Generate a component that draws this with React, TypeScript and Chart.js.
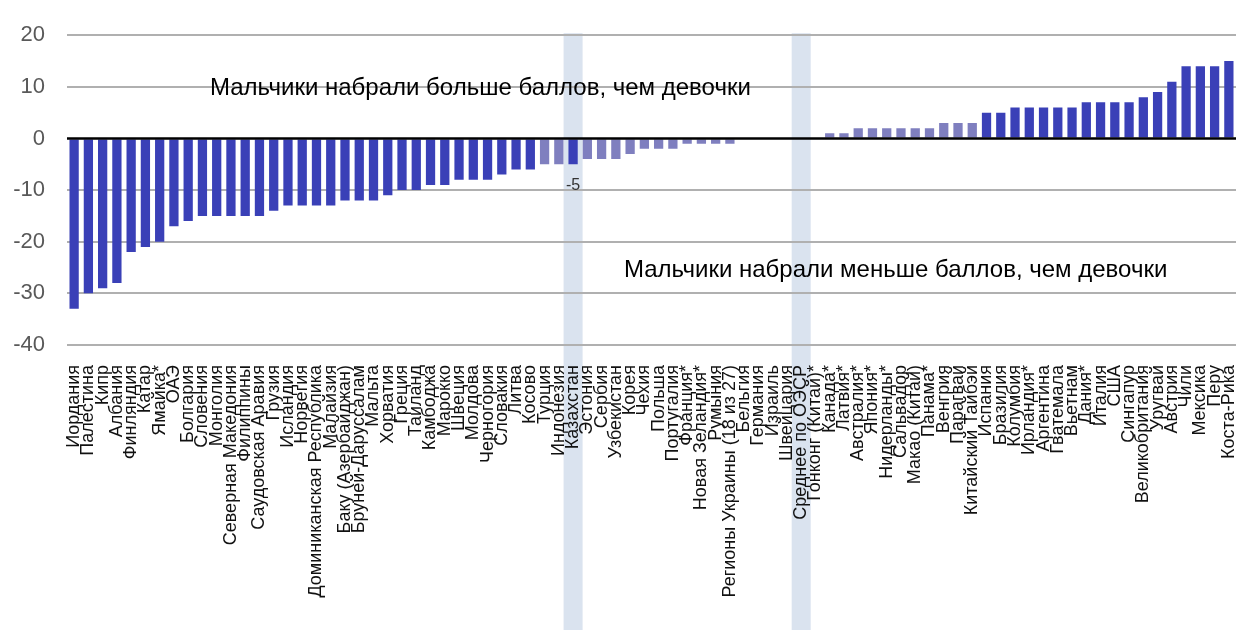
import { useEffect, useRef } from "react";
import { Chart, registerables } from "chart.js";

Chart.register(...registerables);

// Разница в баллах между мальчиками и девочками (мальчики − девочки)
const countries = [
  "Иордания", "Палестина", "Кипр", "Албания", "Финляндия", "Катар", "Ямайка*", "ОАЭ",
  "Болгария", "Словения", "Монголия", "Северная Македония", "Филиппины", "Саудовская Аравия",
  "Грузия", "Исландия", "Норвегия", "Доминиканская Республика", "Малайзия", "Баку (Азербайджан)",
  "Бруней-Даруссалам", "Мальта", "Хорватия", "Греция", "Таиланд", "Камбоджа", "Марокко",
  "Швеция", "Молдова", "Черногория", "Словакия", "Литва", "Косово", "Турция", "Индонезия",
  "Казахстан", "Эстония", "Сербия", "Узбекистан", "Корея", "Чехия", "Польша", "Португалия",
  "Франция*", "Новая Зеландия*", "Румыния", "Регионы Украины (18 из 27)", "Бельгия", "Германия",
  "Израиль", "Швейцария", "Среднее по ОЭСР", "Гонконг (Китай)*", "Канада*", "Латвия*",
  "Австралия*", "Япония*", "Нидерланды*", "Сальвадор", "Макао (Китай)", "Панама*", "Венгрия",
  "Парагвай", "Китайский Тайбэй", "Испания", "Бразилия", "Колумбия", "Ирландия*", "Аргентина",
  "Гватемала", "Вьетнам", "Дания*", "Италия", "США", "Сингапур", "Великобритания", "Уругвай",
  "Австрия", "Чили", "Мексика", "Перу", "Коста-Рика",
];

const scoreGap = [
  -33, -30, -29, -28, -22, -21, -20, -17,
  -16, -15, -15, -15, -15, -15,
  -14, -13, -13, -13, -13, -12,
  -12, -12, -11, -10, -10, -9, -9,
  -8, -8, -8, -7, -6, -6, -5, -5,
  -5, -4, -4, -4, -3, -2, -2, -2,
  -1, -1, -1, -1, 0, 0,
  0, 0, 0, 0, 1, 1,
  2, 2, 2, 2, 2, 2, 3,
  3, 3, 5, 5, 6, 6, 6,
  6, 6, 7, 7, 7, 7, 8, 9,
  11, 14, 14, 14, 15,
];

// Статистически незначимые различия (светлые столбцы)
const notSignificant = [
  "Турция", "Индонезия", "Эстония", "Сербия", "Узбекистан", "Корея", "Чехия", "Польша",
  "Португалия", "Франция*", "Новая Зеландия*", "Румыния", "Регионы Украины (18 из 27)",
  "Бельгия", "Германия", "Израиль", "Швейцария", "Среднее по ОЭСР", "Гонконг (Китай)*",
  "Канада*", "Латвия*", "Австралия*", "Япония*", "Нидерланды*", "Сальвадор", "Макао (Китай)",
  "Панама*", "Венгрия", "Парагвай", "Китайский Тайбэй",
];

const highlighted = ["Казахстан", "Среднее по ОЭСР"];
const valueLabelFor = ["Казахстан"];

const yTicks = [-40, -30, -20, -10, 0, 10, 20];

const boysAhead = "Мальчики набрали больше баллов, чем девочки";
const girlsAhead = "Мальчики набрали меньше баллов, чем девочки";

const FONT = "'Liberation Sans', Arial, sans-serif";
const DARK = "#3A40B7";
const LIGHT = "#7F7FBF";
const BAND = "#DAE3EF";

const bandsPlugin = {
  id: "highlightBands",
  beforeDraw(chart: any) {
    const { ctx } = chart;
    const x = chart.scales.x;
    ctx.save();
    ctx.fillStyle = BAND;
    highlighted.forEach((name) => {
      const i = countries.indexOf(name);
      const cx = x.getPixelForValue(i);
      ctx.fillRect(cx - 9.5, chart.chartArea.top - 2, 19, chart.height);
    });
    ctx.restore();
  },
};

const overlayPlugin = {
  id: "overlay",
  afterDatasetsDraw(chart: any) {
    const { ctx, chartArea } = chart;
    const x = chart.scales.x;
    const y = chart.scales.y;
    ctx.save();
    // нулевая линия поверх столбцов
    const y0 = y.getPixelForValue(0);
    ctx.strokeStyle = "#000000";
    ctx.lineWidth = 2.5;
    ctx.beginPath();
    ctx.moveTo(chartArea.left, y0);
    ctx.lineTo(chartArea.right, y0);
    ctx.stroke();

    // подпись значения
    ctx.fillStyle = "#333333";
    ctx.font = `16px ${FONT}`;
    ctx.textAlign = "center";
    ctx.textBaseline = "middle";
    valueLabelFor.forEach((name) => {
      const i = countries.indexOf(name);
      const v = scoreGap[i];
      ctx.fillText(String(v), x.getPixelForValue(i), y.getPixelForValue(v) + 21);
    });

    // пояснения
    ctx.fillStyle = "#000000";
    ctx.font = `24px ${FONT}`;
    ctx.textAlign = "left";
    ctx.fillText(boysAhead, 210, 88);
    ctx.fillText(girlsAhead, 624, 270);
    ctx.restore();
  },
};

export default function App() {
  const canvasRef = useRef<HTMLCanvasElement | null>(null);

  useEffect(() => {
    if (!canvasRef.current) return;
    const chart = new Chart(canvasRef.current, {
      type: "bar",
      data: {
        labels: countries,
        datasets: [
          {
            data: scoreGap,
            backgroundColor: countries.map((c) =>
              notSignificant.includes(c) ? LIGHT : DARK
            ),
            barPercentage: 0.65,
            categoryPercentage: 1,
          },
        ],
      },
      options: {
        responsive: false,
        animation: false,
        layout: { padding: { top: 25, right: 0, bottom: 0, left: 0 } },
        plugins: {
          legend: { display: false },
          tooltip: { enabled: false },
        },
        scales: {
          x: {
            grid: { display: false },
            border: { display: false },
            ticks: {
              autoSkip: false,
              minRotation: 90,
              maxRotation: 90,
              padding: 12,
              color: "#111111",
              font: { family: FONT, size: 18 },
            },
            afterFit(scale: any) {
              scale.height = 285;
              scale.paddingLeft = 0;
              scale.paddingRight = 0;
            },
          },
          y: {
            min: -40,
            max: 20,
            afterBuildTicks(scale: any) {
              scale.ticks = yTicks.map((v) => ({ value: v }));
            },
            grid: {
              drawTicks: false,
              lineWidth: 2,
              color: (c: any) => (c.tick && c.tick.value === 0 ? "rgba(0,0,0,0)" : "#B0B0B0"),
            },
            border: { display: false },
            ticks: {
              padding: 22,
              color: "#595959",
              font: { family: FONT, size: 22 },
            },
            afterFit(scale: any) {
              scale.width = 67;
            },
          },
        },
      },
      plugins: [bandsPlugin, overlayPlugin],
    });
    return () => chart.destroy();
  }, []);

  return (
    <div style={{ position: "absolute", left: 0, top: 0, width: 1236, height: 630, background: "#ffffff" }}>
      <canvas ref={canvasRef} width={1236} height={630} style={{ display: "block" }} />
    </div>
  );
}
